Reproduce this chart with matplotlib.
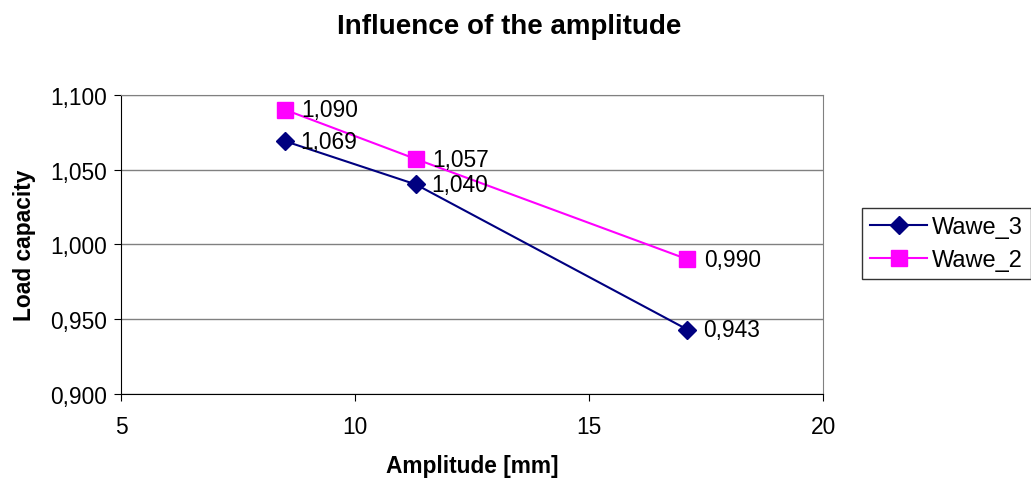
import matplotlib.pyplot as plt
from matplotlib.ticker import FuncFormatter

plt.rcParams['font.family'] = ['Liberation Sans', 'DejaVu Sans']

# amplitude [mm]
amplitude = [8.5, 11.3, 17.1]
# capacite de charge
wawe_3 = [1.069, 1.040, 0.943]
wawe_2 = [1.090, 1.057, 0.990]

fs = 16.4


def comma(v, pos=None):
    return ('%.3f' % v).replace('.', ',')


fig = plt.figure(figsize=(10.31, 4.81), dpi=100)
ax = fig.add_axes([0.1174, 0.179, 0.681, 0.622])

ax.plot(amplitude, wawe_3, color='#000080', marker='D', markersize=9,
        linewidth=1.5, label='Wawe_3', zorder=3)
ax.plot(amplitude, wawe_2, color='#FF00FF', marker='s', markersize=11,
        linewidth=1.5, label='Wawe_2', zorder=3)

for x, y in zip(amplitude, wawe_3):
    ax.annotate(comma(y), (x, y), xytext=(11, 0), textcoords='offset points',
                va='center', ha='left', fontsize=fs)
for x, y in zip(amplitude, wawe_2):
    ax.annotate(comma(y), (x, y), xytext=(12, 0), textcoords='offset points',
                va='center', ha='left', fontsize=fs)

ax.set_xlim(5, 20)
ax.set_ylim(0.9, 1.1)
ax.set_xticks([5, 10, 15, 20])
ax.set_yticks([0.9, 0.95, 1.0, 1.05, 1.1])
ax.yaxis.set_major_formatter(FuncFormatter(comma))
ax.yaxis.grid(True, color='#808080', linewidth=1)
ax.set_axisbelow(True)
ax.tick_params(labelsize=fs, direction='out', length=5)
ax.tick_params(axis='y', pad=5)
ax.tick_params(axis='x', pad=10)
for s in ['top', 'right']:
    ax.spines[s].set_color('#808080')

ax.set_xlabel('Amplitude [mm]', fontsize=fs, fontweight='bold', labelpad=12)
ax.set_ylabel('Load capacity', fontsize=fs, fontweight='bold', labelpad=10)
fig.suptitle('Influence of the amplitude', fontsize=20, fontweight='bold',
             x=0.494, y=0.97)

ax.legend(loc='upper left', bbox_to_anchor=(862 / 1031, 1 - 209 / 481),
          bbox_transform=fig.transFigure, fontsize=17,
          frameon=True, fancybox=False, edgecolor='black', borderpad=0.35,
          handlelength=2.4, handletextpad=0.2, labelspacing=0.45,
          borderaxespad=0)

fig.savefig('out.png', dpi=100)
